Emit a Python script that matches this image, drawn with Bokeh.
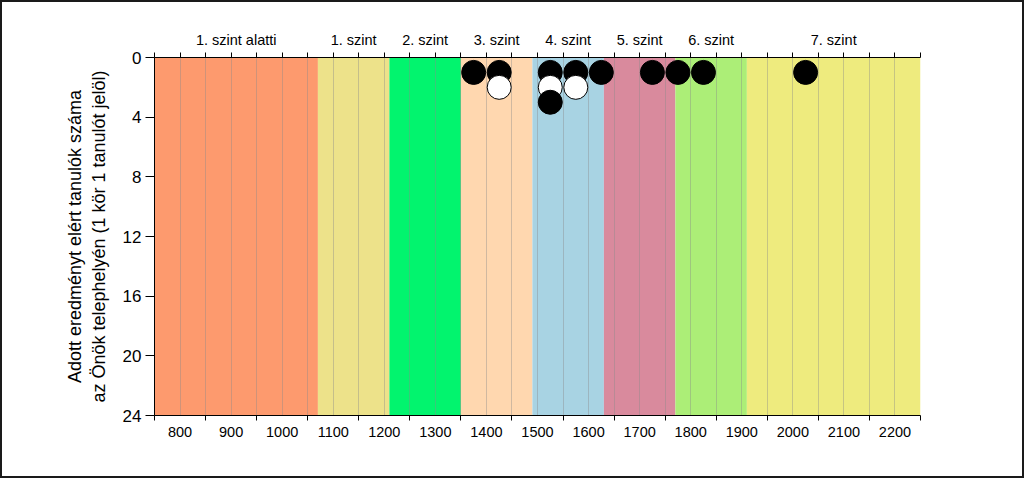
from bokeh.plotting import figure
from bokeh.models import Range1d, LinearAxis, FixedTicker, ColumnDataSource
from bokeh.embed import file_html
from bokeh.resources import INLINE

# ---- data ----
level_names = ["1. szint alatti", "1. szint", "2. szint", "3. szint",
               "4. szint", "5. szint", "6. szint", "7. szint"]
level_edges = [750, 1070, 1210, 1350, 1490, 1630, 1770, 1910, 2250]
level_colors = ["#FD9A6E", "#EDE28A", "#02F46E", "#FFD7AF",
                "#A8D3E3", "#D98A9D", "#ACEE77", "#EEEB7E"]

dot_x = [1375, 1425, 1425, 1525, 1525, 1525, 1575, 1575, 1625, 1725, 1775, 1825, 2025]
dot_y = [1, 1, 2, 1, 2, 3, 1, 2, 1, 1, 1, 1, 1]
dot_fill = ["black", "black", "white", "black", "white", "black",
            "black", "white", "black", "black", "black", "black", "black"]

y_ticks = [0, 4, 8, 12, 16, 20, 24]
x_label_ticks = list(range(800, 2201, 100))
x_minor = list(range(750, 2251, 50))
y_max = 24

# ---- figure ----
FONT = "Liberation Sans"
p = figure(frame_width=766, frame_height=358,
           min_border_left=152, min_border_right=102,
           min_border_top=55, min_border_bottom=61,
           x_range=Range1d(level_edges[0], level_edges[-1]),
           y_range=Range1d(y_max, 0),
           output_backend="svg", toolbar_location=None,
           x_axis_location="below")
p.outline_line_color = None
p.background_fill_color = "white"
p.border_fill_color = "white"
p.styles = {"outline": "2px solid #1a1a1a", "outline-offset": "0px", "margin": "2px"}

# bands
band_src = ColumnDataSource(dict(left=level_edges[:-1], right=level_edges[1:],
                                 color=level_colors))
p.quad(left="left", right="right", top=0, bottom=y_max, fill_color="color",
       line_color=None, source=band_src, level="image")

# grid
p.ygrid.visible = False
p.xgrid.ticker = FixedTicker(ticks=x_minor)
p.xgrid.grid_line_color = "#8a8a8a"
p.xgrid.grid_line_alpha = 0.4
p.xgrid.grid_line_width = 1
p.xgrid.level = "underlay"

# dots: draw row by row so later rows are on top
order = sorted(range(len(dot_x)), key=lambda i: dot_y[i])
dot_src = ColumnDataSource(dict(x=[dot_x[i] for i in order],
                                y=[dot_y[i] for i in order],
                                fill=[dot_fill[i] for i in order]))
p.scatter("x", "y", size=24, fill_color="fill", line_color="black",
          line_width=1, source=dot_src)

# bottom axis
xa = p.xaxis[0]
xa.ticker = FixedTicker(ticks=x_label_ticks, minor_ticks=x_minor[::2])
xa.major_tick_line_color = None
xa.minor_tick_line_color = "black"
xa.minor_tick_out = 5
xa.minor_tick_in = 0
xa.major_label_text_font = FONT
xa.major_label_text_font_size = "14.5px"
xa.major_label_text_color = "black"
xa.major_label_standoff = 5
xa.axis_line_color = "black"

# left axis
ya = p.yaxis[0]
ya.ticker = FixedTicker(ticks=y_ticks)
ya.major_tick_out = 9
ya.major_tick_in = 0
ya.minor_tick_line_color = None
ya.major_label_text_font = FONT
ya.major_label_text_font_size = "17px"
ya.major_label_text_color = "black"
ya.major_label_standoff = 4
ya.axis_line_color = "black"
ya.axis_label = "Adott eredményt elért tanulók száma\naz Önök telephelyén (1 kör 1 tanulót jelöl)"
ya.axis_label_text_font = FONT
ya.axis_label_text_font_size = "18px"
ya.axis_label_text_font_style = "normal"
ya.axis_label_text_color = "black"
ya.axis_label_standoff = 11

# top axis with level names
centres = [(a + b) // 2 for a, b in zip(level_edges[:-1], level_edges[1:])]
top = LinearAxis(ticker=FixedTicker(ticks=centres, minor_ticks=x_minor),
                 major_label_overrides={c: n for c, n in zip(centres, level_names)})
top.major_tick_line_color = None
top.minor_tick_line_color = "black"
top.minor_tick_out = 5
top.minor_tick_in = 0
top.major_label_text_font = FONT
top.major_label_text_font_size = "14.5px"
top.major_label_text_color = "black"
top.major_label_standoff = 4
top.axis_line_color = "black"
p.add_layout(top, "above")

open("out.html", "w").write(file_html(p, INLINE))
